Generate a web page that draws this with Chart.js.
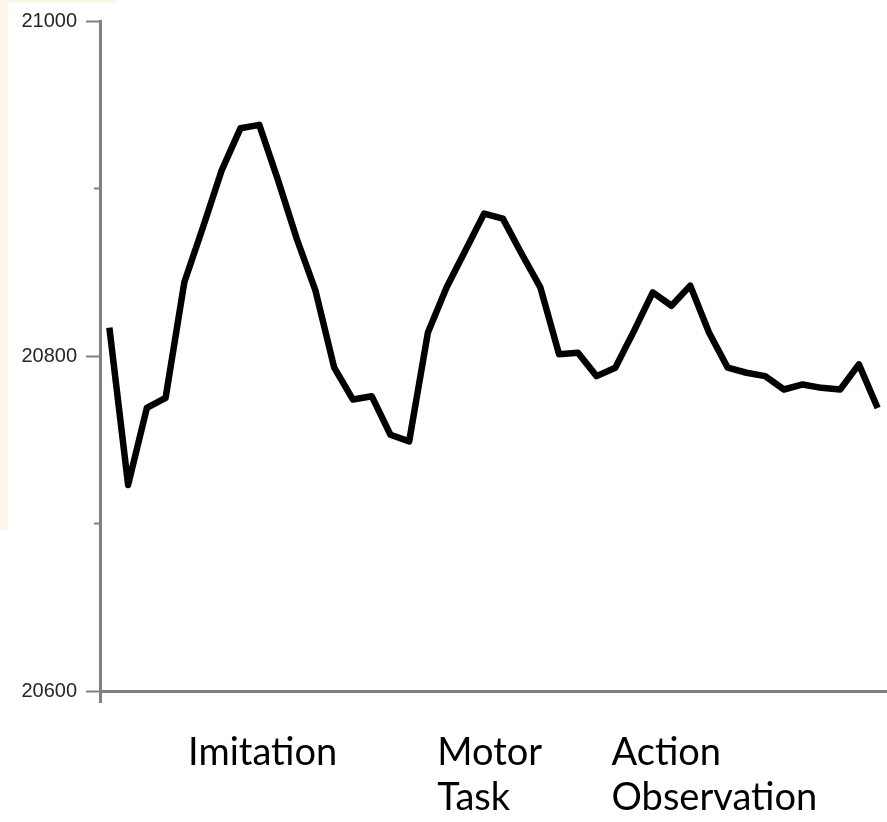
<!DOCTYPE html>
<html>
<head>
<meta charset="utf-8">
<script src="https://cdn.jsdelivr.net/npm/chart.js@4"></script>
<style>
  html, body { margin: 0; padding: 0; background: #fff; }
  #fundo_creme { position: absolute; left: 0; top: 0; width: 118px; height: 530px; background: #fdf7e8; }
  #fundo_branco { position: absolute; left: 8px; top: 3px; width: 110px; height: 527px; background: #fff; }
  #linha_sinal_sessao { position: absolute; left: 0; top: 0; }
</style>
</head>
<body>
<div id="fundo_creme"></div>
<div id="fundo_branco"></div>
<canvas id="linha_sinal_sessao" width="887" height="822"></canvas>
<script>
/*Script do gráfico de linha do sinal ao longo da sessão*/

const valores_sinal = [
    20817, 20723, 20769, 20775, 20844, 20877, 20911, 20936, 20938, 20905,
    20870, 20839, 20793, 20774, 20776, 20753, 20749, 20814, 20841, 20863,
    20885, 20882, 20861, 20841, 20801, 20802, 20788, 20793, 20815, 20838,
    20830, 20842, 20814, 20793, 20790, 20788, 20780, 20783, 20781, 20780,
    20795, 20769,
];

const labels_amostras = valores_sinal.map((_, i) => i + 1);

const ticks_eixo_y = [20600, 20700, 20800, 20900, 21000];
const rotulos_eixo_y = [20600, 20800, 21000];

const nomes_blocos = [['Imitation'], ['Motor', 'Task'], ['Action', 'Observation']];
// amostra onde cada rotulo de bloco comeca
const inicio_blocos = [4.2, 17.5, 26.8];

const cinza_eixo = '#808080';

const data_linha_sinal_sessao = {
    labels: labels_amostras,
    datasets: [{
        label: 'Sinal',
        data: valores_sinal,
        borderColor: '#000',
        backgroundColor: '#000',
        borderWidth: 6.5,
        borderJoinStyle: 'round',
        pointRadius: 0,
        tension: 0,
        fill: false,
        xAxisID: 'x',
        yAxisID: 'y',
    }]
};

const config_linha_sinal_sessao = {
    type: 'line',
    data: data_linha_sinal_sessao,
    options: {
        responsive: false,
        animation: false,
        layout: { padding: { top: 21, right: 0, bottom: 0, left: 0 } },
        plugins: { legend: { display: false }, tooltip: { enabled: false } },
        scales: {
            x: {
                type: 'category',
                offset: true,
                grid: {
                    display: true,
                    offset: true,
                    drawOnChartArea: false,
                    tickLength: 12,
                    tickWidth: 3,
                    tickColor: ctx => ctx.index === 0 ? cinza_eixo : 'rgba(0,0,0,0)',
                },
                border: { display: true, color: cinza_eixo, width: 3 },
                ticks: { display: false },
            },
            x2: {
                type: 'linear',
                position: 'bottom',
                min: -0.5,
                max: 41.5,
                bounds: 'data',
                grid: { display: false, drawTicks: false },
                border: { display: false },
                afterBuildTicks: scale => {
                    scale.ticks = inicio_blocos.map(v => ({ value: v }));
                },
                afterFit: scale => { scale.height = 119; },
                ticks: {
                    align: 'start',
                    autoSkip: false,
                    maxRotation: 0,
                    padding: 27,
                    color: '#000',
                    font: { family: 'Lato', size: 38, lineHeight: '45px' },
                    callback: (v, i) => nomes_blocos[i],
                },
            },
            y: {
                min: 20600,
                max: 21000,
                afterBuildTicks: scale => {
                    scale.ticks = ticks_eixo_y.map(v => ({ value: v }));
                },
                afterFit: scale => { scale.width = 100; },
                grid: {
                    display: true,
                    drawOnChartArea: false,
                    tickLength: 14,
                    tickWidth: 2,
                    tickColor: cinza_eixo,
                    tickBorderDash: ctx => (ctx.tick && !rotulos_eixo_y.includes(ctx.tick.value)) ? [0, 8, 6, 0] : [],
                },
                border: { display: true, color: cinza_eixo, width: 3 },
                ticks: {
                    padding: 9,
                    color: '#262626',
                    font: { family: 'Liberation Sans', size: 20 },
                    callback: v => rotulos_eixo_y.includes(v) ? String(v) : '',
                },
            },
        },
    },
};

const grafico_linha_sinal_sessao = new Chart(
    document.getElementById('linha_sinal_sessao'),
    config_linha_sinal_sessao
);
</script>
</body>
</html>
